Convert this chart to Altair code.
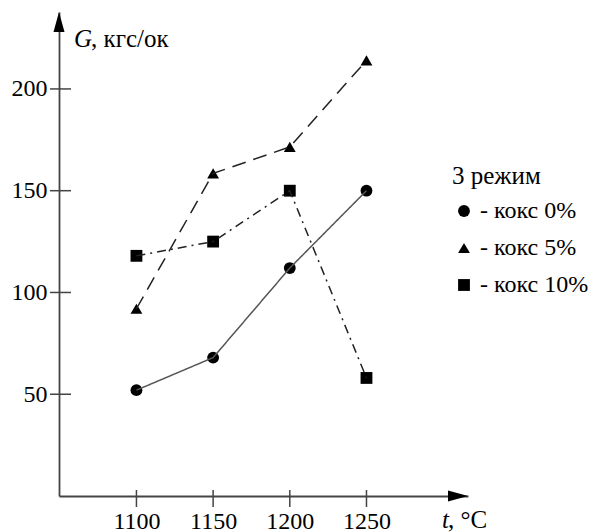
import altair as alt
import pandas as pd

# ---- data ----
temps = [1100, 1150, 1200, 1250]
g_coke0 = [52, 68, 112, 150]
g_coke5 = [92, 158.5, 171.5, 214]
g_coke10 = [118, 125, 150, 58]
series = ["- кокс 0%", "- кокс 5%", "- кокс 10%"]
legend_title = "3 режим"
x_ticks = [1100, 1150, 1200, 1250]
y_ticks = [50, 100, 150, 200]
y_title_var = ["G"]
y_title_unit = [", кгс/ок"]
x_title_var = ["t"]
x_title_unit = [", °C"]

# ---- layout ----
W, H = 409, 484
X_MIN, X_MAX = 1049.5, 1316.2
Y_MIN, Y_MAX = 0, 237.8
PX_T = W / (X_MAX - X_MIN)
PX_G = H / (Y_MAX - Y_MIN)
FONT = "'Liberation Serif', 'Times New Roman', serif"
AXIS_COLOR = "#444444"

rows = []
for name, vals in zip(series, [g_coke0, g_coke5, g_coke10]):
    for t, v in zip(temps, vals):
        rows.append({"t": t, "G": v, "series": name, "line": name})
df = pd.DataFrame(rows)

xs = alt.Scale(domain=[X_MIN, X_MAX], nice=False, zero=False)
ys = alt.Scale(domain=[Y_MIN, Y_MAX], nice=False, zero=False)

x_axis = alt.Axis(values=x_ticks, title=None, grid=False, ticks=False,
                  domain=True, domainColor=AXIS_COLOR, domainWidth=1.8,
                  labelFont=FONT, labelFontSize=24, labelColor="black",
                  labelPadding=13, format="d")
y_axis = alt.Axis(values=y_ticks, title=None, grid=False, ticks=False,
                  domain=True, domainColor=AXIS_COLOR, domainWidth=1.8,
                  labelFont=FONT, labelFontSize=24, labelColor="black",
                  labelPadding=12, format="d")

lines = alt.Chart(df).mark_line(strokeWidth=1.5).encode(
    x=alt.X("t:Q", scale=xs, axis=x_axis),
    y=alt.Y("G:Q", scale=ys, axis=y_axis),
    strokeDash=alt.StrokeDash("line:N", scale=alt.Scale(
        domain=series, range=[[1, 0], [14, 8], [9, 5, 2, 5]]), legend=None),
    color=alt.Color("line:N", scale=alt.Scale(
        domain=series, range=["#555555", "#222222", "#222222"]), legend=None),
)

points = alt.Chart(df).mark_point(filled=True, opacity=1, size=140).encode(
    x="t:Q",
    y="G:Q",
    shape=alt.Shape("series:N", scale=alt.Scale(
        domain=series, range=["circle", "triangle-up", "square"]),
        legend=alt.Legend(title=legend_title, orient="none", legendX=393, legendY=152)),
    color=alt.value("black"),
)

y_tick_df = pd.DataFrame({"G": y_ticks})
y_tick_marks = alt.Chart(y_tick_df).mark_rule(color=AXIS_COLOR, strokeWidth=1.5).encode(
    y=alt.Y("G:Q", scale=ys), x=alt.value(-9), x2=alt.value(12))

x_tick_df = pd.DataFrame({"t": x_ticks})
x_tick_marks = alt.Chart(x_tick_df).mark_rule(color=AXIS_COLOR, strokeWidth=1.5).encode(
    x=alt.X("t:Q", scale=xs), y=alt.value(H - 6), y2=alt.value(H + 11))

# arrowheads, tip at the end of each axis domain
y_arrow_df = pd.DataFrame({"t": [X_MIN], "G": [Y_MAX - 10 / PX_G]})
y_arrow = alt.Chart(y_arrow_df).mark_point(
    shape="M0,-1L0.55,1L-0.55,1Z", filled=True, opacity=1, size=400,
    color="black").encode(x=alt.X("t:Q", scale=xs), y=alt.Y("G:Q", scale=ys))

x_arrow_df = pd.DataFrame({"t": [X_MAX - 10 / PX_T], "G": [Y_MIN]})
x_arrow = alt.Chart(x_arrow_df).mark_point(
    shape="M1,0L-1,0.55L-1,-0.55Z", filled=True, opacity=1, size=400,
    color="black").encode(x=alt.X("t:Q", scale=xs), y=alt.Y("G:Q", scale=ys))

# axis titles
yt1 = alt.Chart(pd.DataFrame({"label": y_title_var})).mark_text(
    font=FONT, fontSize=25, fontStyle="italic", align="left", baseline="alphabetic",
    color="black").encode(text="label:N", x=alt.value(15), y=alt.value(35))
yt2 = alt.Chart(pd.DataFrame({"label": y_title_unit})).mark_text(
    font=FONT, fontSize=25, align="left", baseline="alphabetic",
    color="black").encode(text="label:N", x=alt.value(32), y=alt.value(35))
xt1 = alt.Chart(pd.DataFrame({"label": x_title_var})).mark_text(
    font=FONT, fontSize=25, fontStyle="italic", align="left", baseline="alphabetic",
    color="black").encode(text="label:N", x=alt.value(383), y=alt.value(516))
xt2 = alt.Chart(pd.DataFrame({"label": x_title_unit})).mark_text(
    font=FONT, fontSize=25, align="left", baseline="alphabetic",
    color="black").encode(text="label:N", x=alt.value(389), y=alt.value(516))

chart = alt.layer(
    points, lines, y_tick_marks, x_tick_marks, y_arrow, x_arrow, yt1, yt2, xt1, xt2
).properties(
    width=W, height=H,
    autosize=alt.AutoSizeParams(type="none"),
    padding={"left": 59, "top": 12, "right": 592 - 59 - W, "bottom": 532 - 12 - H},
    background="white",
).configure(font=FONT).configure_view(stroke=None).configure_legend(
    titleFont=FONT, titleFontSize=25, titleFontWeight="normal",
    titleColor="black", titlePadding=10,
    labelFont=FONT, labelFontSize=24, labelColor="black",
    labelLimit=300, labelOffset=4, symbolSize=140,
    symbolFillColor="black", symbolStrokeColor="black", symbolStrokeWidth=0,
    rowPadding=13, padding=0)

chart.save("out.html", embed_options={"renderer": "svg", "actions": False})
